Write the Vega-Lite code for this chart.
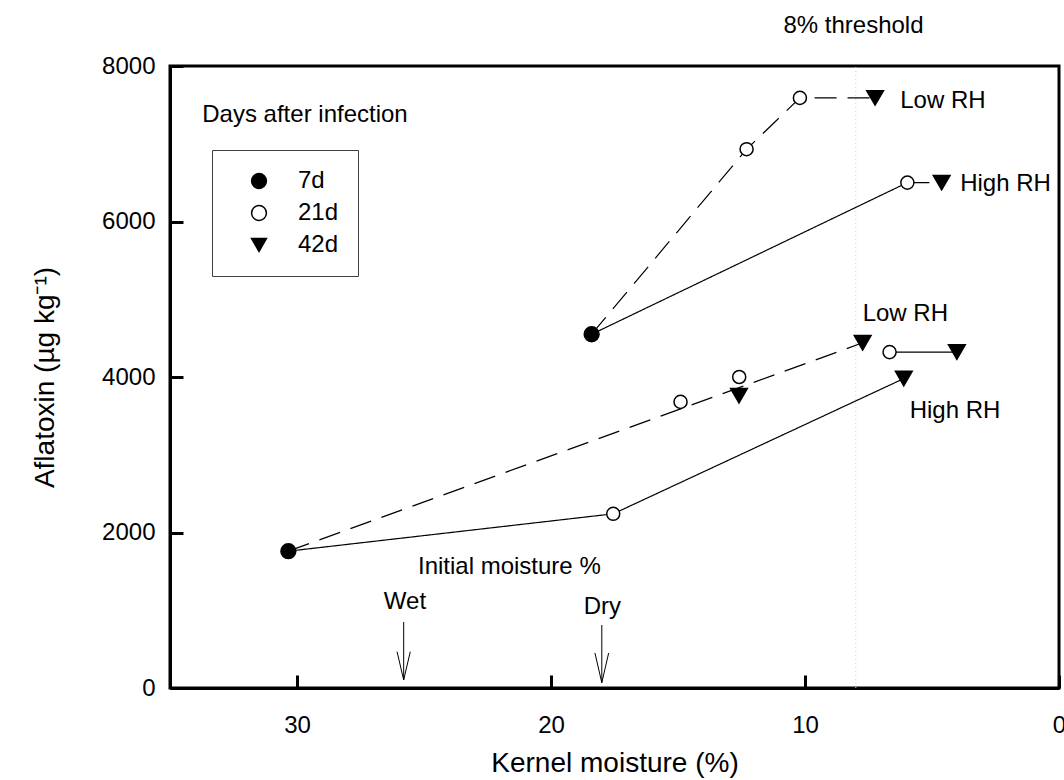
{
  "$schema": "https://vega.github.io/schema/vega-lite/v6.json",
  "width": 889,
  "height": 622,
  "autosize": {"type": "none"},
  "padding": {"left": 170, "top": 66, "right": 5, "bottom": 92},
  "background": "white",
  "config": {
    "font": "Liberation Sans",
    "view": {"stroke": "black", "strokeWidth": 3},
    "axis": {
      "grid": false,
      "domainColor": "black",
      "domainWidth": 3,
      "tickColor": "black",
      "tickWidth": 3,
      "tickSize": -13,
      "labelFontSize": 24,
      "labelColor": "black",
      "titleFontSize": 28,
      "titleFontWeight": "normal",
      "titleColor": "black"
    },
    "legend": {
      "title": null,
      "orient": "none",
      "legendX": 42,
      "legendY": 84,
      "strokeColor": "#404040",
      "padding": 19,
      "rowPadding": 8,
      "labelFontSize": 24,
      "labelColor": "black",
      "labelOffset": 27,
      "symbolOffset": 16,
      "symbolSize": 220,
      "symbolStrokeWidth": 1.5
    }
  },
  "datasets": {
    "points": [
      {"x": 18.4, "y": 4550, "day": "7d"},
      {"x": 30.34, "y": 1760, "day": "7d"},
      {"x": 12.3, "y": 6930, "day": "21d"},
      {"x": 10.2, "y": 7590, "day": "21d"},
      {"x": 5.97, "y": 6500, "day": "21d"},
      {"x": 17.55, "y": 2240, "day": "21d"},
      {"x": 14.9, "y": 3680, "day": "21d"},
      {"x": 12.59, "y": 4000, "day": "21d"},
      {"x": 6.67, "y": 4320, "day": "21d"},
      {"x": 7.24, "y": 7590, "day": "42d"},
      {"x": 4.62, "y": 6500, "day": "42d"},
      {"x": 7.73, "y": 4440, "day": "42d"},
      {"x": 12.6, "y": 3760, "day": "42d"},
      {"x": 6.11, "y": 3980, "day": "42d"},
      {"x": 4.02, "y": 4320, "day": "42d"}
    ],
    "lines": [
      {"seg": "A", "style": "dashed", "i": 1, "x": 18.4, "y": 4550},
      {"seg": "A", "style": "dashed", "i": 2, "x": 12.3, "y": 6930},
      {"seg": "A", "style": "dashed", "i": 3, "x": 10.2, "y": 7590},
      {"seg": "A", "style": "dashed", "i": 4, "x": 7.24, "y": 7590},
      {"seg": "B", "style": "solid", "i": 1, "x": 18.4, "y": 4550},
      {"seg": "B", "style": "solid", "i": 2, "x": 5.97, "y": 6500},
      {"seg": "C", "style": "dashed", "i": 1, "x": 5.97, "y": 6500},
      {"seg": "C", "style": "dashed", "i": 2, "x": 4.62, "y": 6500},
      {"seg": "D", "style": "dashed", "i": 1, "x": 30.34, "y": 1760},
      {"seg": "D", "style": "dashed", "i": 2, "x": 7.73, "y": 4440},
      {"seg": "E", "style": "solid", "i": 1, "x": 30.34, "y": 1760},
      {"seg": "E", "style": "solid", "i": 2, "x": 17.55, "y": 2240},
      {"seg": "E", "style": "solid", "i": 3, "x": 6.11, "y": 3980},
      {"seg": "F", "style": "solid", "i": 1, "x": 6.67, "y": 4320},
      {"seg": "F", "style": "solid", "i": 2, "x": 4.02, "y": 4320}
    ],
    "arrows": [
      {"x": 25.8, "y": 849, "x2": 25.8, "y2": 103},
      {"x": 26.06, "y": 467, "x2": 25.8, "y2": 103},
      {"x": 25.54, "y": 467, "x2": 25.8, "y2": 103},
      {"x": 18.0, "y": 810, "x2": 18.0, "y2": 68},
      {"x": 18.27, "y": 450, "x2": 18.0, "y2": 68},
      {"x": 17.73, "y": 450, "x2": 18.0, "y2": 68}
    ],
    "threshold": [
      {"x": 8, "y": 0, "y2": 8000}
    ],
    "labelsLeft": [
      {"label": "Low RH", "x": 6.25, "y": 7550},
      {"label": "High RH", "x": 3.89, "y": 6486},
      {"label": "Low RH", "x": 7.73, "y": 4813},
      {"label": "High RH", "x": 5.88, "y": 3563},
      {"label": "Days after infection", "x": 33.73, "y": 7370}
    ],
    "labelsCenter": [
      {"label": "Initial moisture %", "x": 21.64, "y": 1560},
      {"label": "Wet", "x": 25.75, "y": 1110},
      {"label": "Dry", "x": 17.98, "y": 1046},
      {"label": "8% threshold", "x": 8.09, "y": 8515}
    ]
  },
  "encoding": {
    "x": {
      "field": "x",
      "type": "quantitative",
      "scale": {"domain": [0, 35], "reverse": true, "nice": false, "zero": false},
      "axis": {
        "title": "Kernel moisture (%)",
        "values": [0, 10, 20, 30],
        "format": "d",
        "labelPadding": 38,
        "labelFlush": false,
        "titlePadding": 12
      }
    },
    "y": {
      "field": "y",
      "type": "quantitative",
      "scale": {"domain": [0, 8000], "nice": false},
      "axis": {
        "title": "Aflatoxin (µg kg⁻¹)",
        "values": [0, 2000, 4000, 6000, 8000],
        "format": "d",
        "labelPadding": 28,
        "titlePadding": 42
      }
    }
  },
  "layer": [
    {
      "data": {"name": "threshold"},
      "mark": {"type": "rule", "color": "#d0d0d0", "strokeWidth": 1, "strokeDash": [1, 3]},
      "encoding": {"y2": {"field": "y2"}}
    },
    {
      "data": {"name": "arrows"},
      "mark": {"type": "rule", "color": "black", "strokeWidth": 1},
      "encoding": {"x2": {"field": "x2"}, "y2": {"field": "y2"}}
    },
    {
      "data": {"name": "lines"},
      "mark": {"type": "line", "color": "black", "strokeWidth": 1.2},
      "encoding": {
        "detail": {"field": "seg", "type": "nominal"},
        "order": {"field": "i", "type": "quantitative"},
        "strokeDash": {
          "field": "style",
          "type": "nominal",
          "scale": {"domain": ["solid", "dashed"], "range": [[1, 0], [22, 11]]},
          "legend": null
        }
      }
    },
    {
      "data": {"name": "points"},
      "mark": {"type": "point", "strokeWidth": 1.5, "opacity": 1, "fillOpacity": 1, "strokeOpacity": 1},
      "encoding": {
        "shape": {
          "field": "day",
          "type": "nominal",
          "scale": {"domain": ["7d", "21d", "42d"], "range": ["circle", "circle", "triangle-down"]}
        },
        "fill": {
          "field": "day",
          "type": "nominal",
          "scale": {"domain": ["7d", "21d", "42d"], "range": ["black", "white", "black"]}
        },
        "stroke": {
          "field": "day",
          "type": "nominal",
          "scale": {"domain": ["7d", "21d", "42d"], "range": ["black", "black", "black"]}
        },
        "size": {
          "condition": [
            {"test": "datum.day === '21d'", "value": 170},
            {"test": "datum.day === '42d'", "value": 280}
          ],
          "value": 220
        }
      }
    },
    {
      "data": {"name": "labelsLeft"},
      "mark": {"type": "text", "align": "left", "baseline": "middle", "fontSize": 24, "color": "black", "clip": false},
      "encoding": {"text": {"field": "label"}}
    },
    {
      "data": {"name": "labelsCenter"},
      "mark": {"type": "text", "align": "center", "baseline": "middle", "fontSize": 24, "color": "black", "clip": false},
      "encoding": {"text": {"field": "label"}}
    }
  ]
}
